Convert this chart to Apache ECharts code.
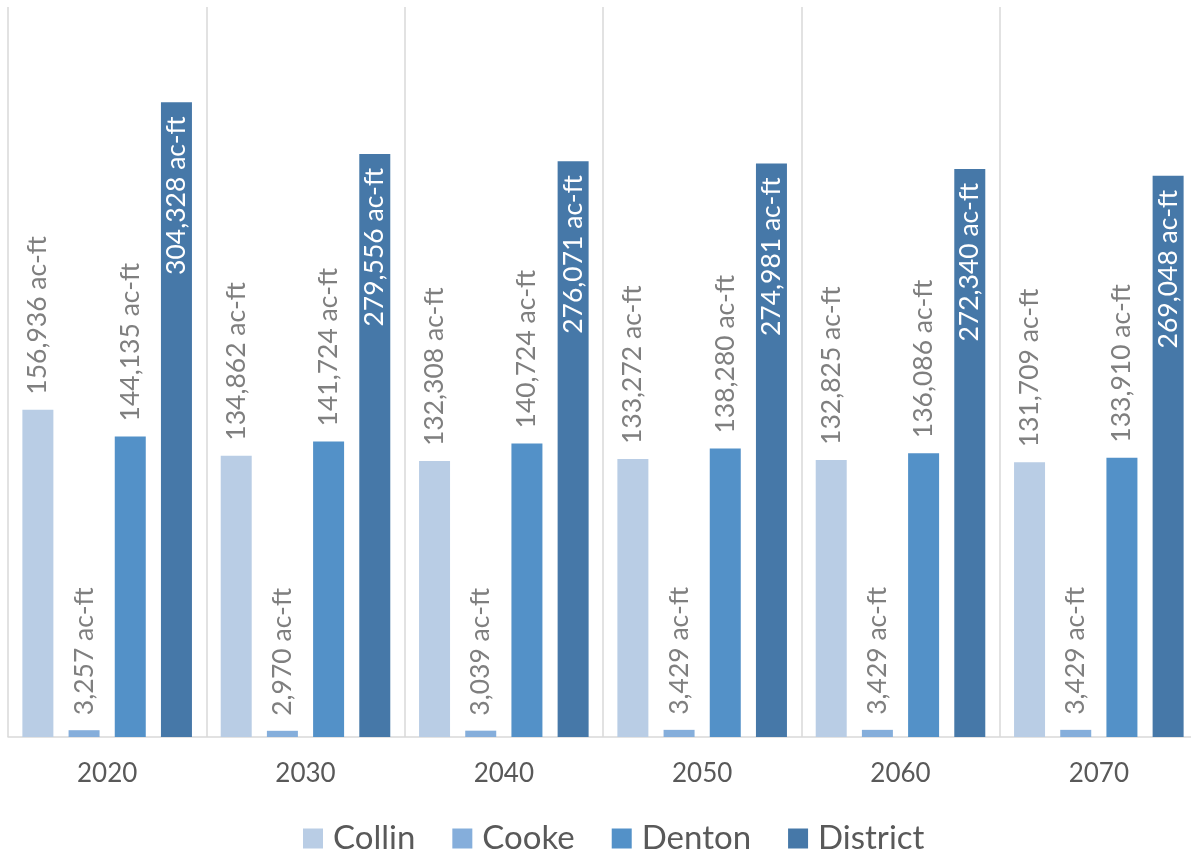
<!DOCTYPE html>
<html>
<head>
<meta charset="utf-8">
<script src="https://cdn.jsdelivr.net/npm/echarts@6/dist/echarts.min.js"></script>
<style>
    html, body { margin: 0; padding: 0; background: #fff; overflow: hidden; }
    #main { width: 1200px; height: 852px; }
</style>
</head>
<body>
<div id="main"></div>
<script>
var years = ["2020", "2030", "2040", "2050", "2060", "2070"];
var collin = [156936, 134862, 132308, 133272, 132825, 131709];
var cooke = [3257, 2970, 3039, 3429, 3429, 3429];
var denton = [144135, 141724, 140724, 138280, 136086, 133910];
var district = [304328, 279556, 276071, 274981, 272340, 269048];

var FONT = "Lato";

function fmt(p) {
    return p.value.toLocaleString("en-US") + " ac-ft";
}

// 外侧标签（竖排，灰色）
var outLabel = {
    show: true,
    position: "top",
    rotate: 90,
    align: "left",
    verticalAlign: "middle",
    distance: 15,
    color: "#7f7f7f",
    fontFamily: FONT,
    fontSize: 26.5,
    formatter: fmt
};

function makeBar(name, data, color, label) {
    return {
        name: name,
        type: "bar",
        data: data,
        barWidth: 31,
        barGap: "49%",
        itemStyle: { color: color },
        label: label
    };
}

var chart = echarts.init(document.getElementById("main"));
var option = {
    animation: false,
    // 右边最后一格超出画面，容器比窗口略宽
    grid: { left: 8, top: 7, width: 1190, height: 730 },
    legend: {
        top: 817,
        left: 298,
        itemWidth: 20,
        itemHeight: 20,
        itemGap: 37,
        icon: "rect",
        textStyle: { color: "#595959", fontFamily: FONT, fontSize: 33, padding: [0, 0, 0, 5] }
    },
    xAxis: {
        type: "category",
        data: years,
        axisLine: { lineStyle: { color: "#d9d9d9", width: 1.5 } },
        axisTick: { show: false },
        splitLine: { show: true, lineStyle: { color: "#d9d9d9", width: 1.5 } },
        axisLabel: { color: "#595959", fontFamily: FONT, fontSize: 26, margin: 24 }
    },
    yAxis: {
        type: "value",
        min: 0,
        max: 350000,
        show: false,
        splitLine: { show: false }
    },
    series: [
        makeBar("Collin", collin, "#b9cde5", outLabel),
        makeBar("Cooke", cooke, "#85aedb", outLabel),
        makeBar("Denton", denton, "#5391c8", outLabel),
        makeBar("District", district, "#4678a8", {
            show: true,
            position: "insideTop",
            rotate: 90,
            align: "right",
            verticalAlign: "middle",
            distance: 14,
            color: "#ffffff",
            fontFamily: FONT,
            fontSize: 26.5,
            formatter: fmt
        })
    ]
};
chart.setOption(option);
</script>
</body>
</html>
